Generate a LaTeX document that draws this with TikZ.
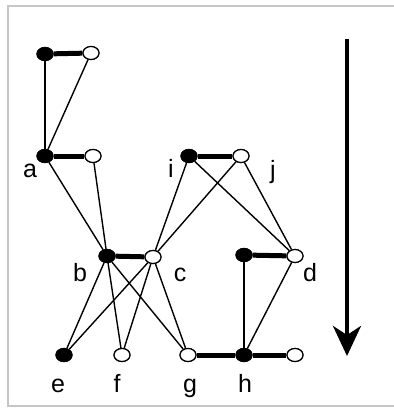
\documentclass[tikz,border=0pt]{standalone}
\usepackage{fontspec}
\setmainfont{Liberation Sans}
\usetikzlibrary{shapes.geometric,arrows.meta}
\begin{document}
\begin{tikzpicture}[x=1pt,y=-1pt,
    vtx/.style={ellipse,draw=black,line width=1.2pt,minimum width=16pt,minimum height=13pt,inner sep=0pt},
    full/.style={vtx,fill=black},
    hollow/.style={vtx,fill=white},
    edge/.style={line width=1.4pt},
    match/.style={line width=5pt},
    lbl/.style={anchor=base,inner sep=0pt,font=\fontsize{25}{28}\selectfont},
  ]
    \useasboundingbox (0,0) rectangle (394,408);
    % frame, its right side runs off the page
    \draw[gray!45,line width=2.5pt] (394,6) -- (8,6) -- (8,406) -- (394,406);
    % vertices: filled one on the left of each matched pair
    \node[full]   (t1) at (45,54)  {};
    \node[hollow] (t2) at (91,53)  {};
    \node[full]   (a)  at (45,156) {};
    \node[hollow] (a2) at (93,156) {};
    \node[full]   (i)  at (189,156) {};
    \node[hollow] (j)  at (241,156) {};
    \node[full]   (b)  at (107,256) {};
    \node[hollow] (c)  at (153,257) {};
    \node[full]   (k)  at (244,255) {};
    \node[hollow] (d)  at (295,256) {};
    \node[full]   (e)  at (64,355) {};
    \node[hollow] (f)  at (122,355) {};
    \node[hollow] (g)  at (188,355) {};
    \node[full]   (h)  at (244,355) {};
    \node[hollow] (m)  at (295,355) {};
    % thin edges
    \draw[edge] (t1) -- (a);
    \draw[edge] (t2) -- (a);
    \draw[edge] (a) -- (b);
    \draw[edge] (a2) -- (b);
    \draw[edge] (i) -- (c);
    \draw[edge] (i) -- (d);
    \draw[edge] (j) -- (c);
    \draw[edge] (j) -- (d);
    \foreach \v in {e,f,g} {
      \draw[edge] (b) -- (\v);
      \draw[edge] (c) -- (\v);
    }
    \draw[edge] (k) -- (h);
    \draw[edge] (d) -- (h);
    % matched pairs
    \draw[match] (t1) -- (t2);
    \draw[match] (a) -- (a2);
    \draw[match] (i) -- (j);
    \draw[match] (b) -- (c);
    \draw[match] (k) -- (d);
    \draw[match] (g) -- (h);
    \draw[match] (h) -- (m);
    % redraw vertices over the edges
    \foreach \v/\s in {t1/full,t2/hollow,a/full,a2/hollow,i/full,j/hollow,b/full,c/hollow,k/full,d/hollow,e/full,f/hollow,g/hollow,h/full,m/hollow}
      \node[\s] at (\v) {};
    % labels
    \node[lbl] (la) at (30,177) {a};
    \node[lbl] (li) at (171,177) {i};
    \node[lbl] (lj) at (273,178) {j};
    \node[lbl] (lb) at (80,281) {b};
    \node[lbl] (lc) at (180,281) {c};
    \node[lbl] (ld) at (310,281) {d};
    \node[lbl] (le) at (58,392) {e};
    \node[lbl] (lf) at (117,392) {f};
    \node[lbl] (lg) at (190,392) {g};
    \node[lbl] (lh) at (245,392) {h};
    % direction arrow
    \coordinate (top) at (347,39);
    \coordinate (tip) at (347,356);
    \draw[line width=4pt,-{Stealth[length=30pt,width=28pt,inset=9pt]}] (top) -- (tip);
  \end{tikzpicture}
\end{document}
